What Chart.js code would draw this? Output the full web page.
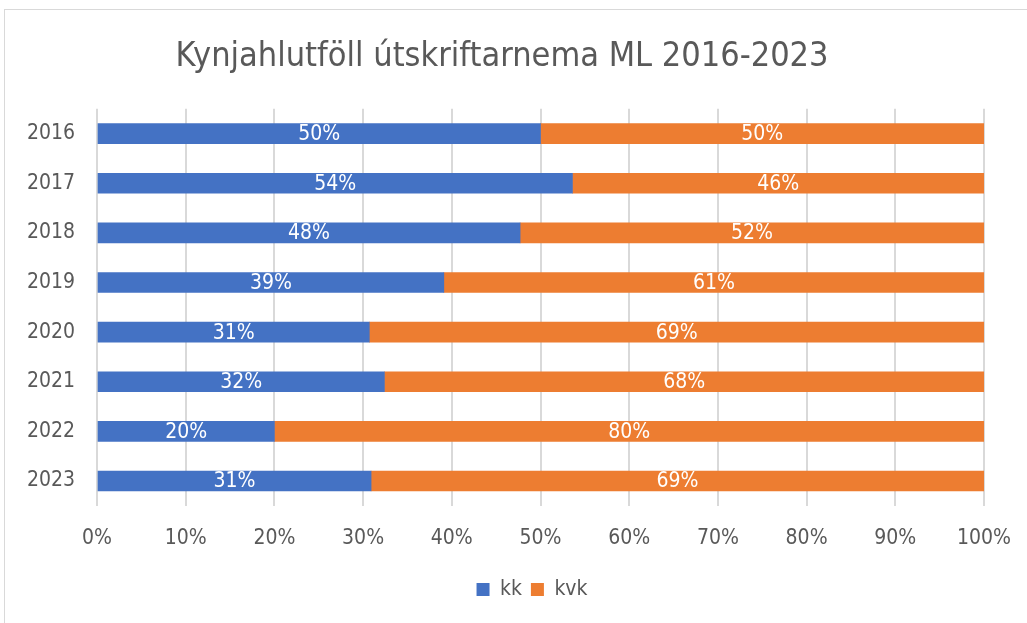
<!DOCTYPE html>
<html lang="is">
<head>
  <meta charset="UTF-8">
  <title>Kynjahlutföll útskriftarnema ML 2016-2023</title>
  <script src="https://cdn.jsdelivr.net/npm/chart.js"></script>
  <style>
    html, body { margin: 0; padding: 0; background: #fff; }
    #wrap { position: relative; width: 1027px; height: 623px; overflow: hidden; }
    #frame {
      position: absolute; left: 4px; top: 9px; width: 1040px; height: 640px;
      border: 1px solid #d9d9d9; box-sizing: border-box;
    }
    canvas { position: absolute; left: 0; top: 0; }
  </style>
</head>
<body>
<div id="wrap">
  <div id="frame"></div>
  <canvas id="chart" width="1027" height="623"></canvas>
</div>

<script>
  // gögn lesin af myndinni (hlutfall í %)
  const years = ["2016", "2017", "2018", "2019", "2020", "2021", "2022", "2023"];
  const kk  = [50.0, 53.6, 47.7, 39.1, 30.7, 32.4, 20.0, 30.9];
  const kvk = [50.0, 46.4, 52.3, 60.9, 69.3, 67.6, 80.0, 69.1];
  const xTicks = [0, 10, 20, 30, 40, 50, 60, 70, 80, 90, 100];

  const FONT = "'DejaVu Sans Condensed', 'Liberation Sans', Arial, sans-serif";
  const GREY = '#595959';

  // prósentutölur inni í súlunum
  const barLabels = {
    id: 'barLabels',
    afterLayout(chart) {
      // færa skýringuna til, eins og í Excel
      const lg = chart.legend;
      lg.left += 30; lg.right += 30;
      lg.top -= 1; lg.bottom -= 1;
    },
    afterDatasetsDraw(chart) {
      const ctx = chart.ctx;
      ctx.save();
      ctx.font = '21px ' + FONT;
      ctx.fillStyle = '#ffffff';
      ctx.textAlign = 'center';
      ctx.textBaseline = 'middle';
      chart.data.datasets.forEach((ds, i) => {
        chart.getDatasetMeta(i).data.forEach((bar, j) => {
          const p = bar.getCenterPoint();
          ctx.fillText(Math.round(ds.data[j]) + '%', p.x, p.y + 1);
        });
      });
      ctx.restore();
    }
  };

  new Chart(document.getElementById('chart'), {
    type: 'bar',
    data: {
      labels: years,
      datasets: [
        { label: 'kk',  data: kk,  backgroundColor: '#4472C4', barThickness: 20 },
        { label: 'kvk', data: kvk, backgroundColor: '#ED7D31', barThickness: 20 }
      ]
    },
    options: {
      indexAxis: 'y',
      responsive: false,
      animation: false,
      layout: { padding: { left: 20, right: 43, top: 0, bottom: 12 } },
      plugins: {
        title: {
          display: true,
          text: 'Kynjahlutföll útskriftarnema ML 2016-2023',
          color: GREY,
          font: { family: FONT, size: 34, weight: 'normal' },
          padding: { top: 37, bottom: 31 }
        },
        legend: {
          position: 'bottom',
          labels: {
            color: GREY,
            font: { family: FONT, size: 21 },
            boxWidth: 13, boxHeight: 13, padding: 9
          }
        },
        tooltip: { enabled: false }
      },
      scales: {
        x: {
          stacked: true,
          min: 0, max: 100,
          afterBuildTicks: s => { s.ticks = xTicks.map(v => ({ value: v })); },
          afterFit: s => { s.paddingLeft = 0; s.paddingRight = 0; },
          ticks: {
            color: GREY,
            font: { family: FONT, size: 21 },
            padding: 20,
            callback: v => v + '%'
          },
          grid: { color: '#d9d9d9', lineWidth: 2, drawTicks: false },
          border: { display: false }
        },
        y: {
          stacked: true,
          afterFit: s => { s.width = 77; },
          ticks: {
            color: GREY,
            font: { family: FONT, size: 21 },
            padding: 14
          },
          grid: { display: false },
          border: { display: false }
        }
      }
    },
    plugins: [barLabels]
  });
</script>
</body>
</html>
